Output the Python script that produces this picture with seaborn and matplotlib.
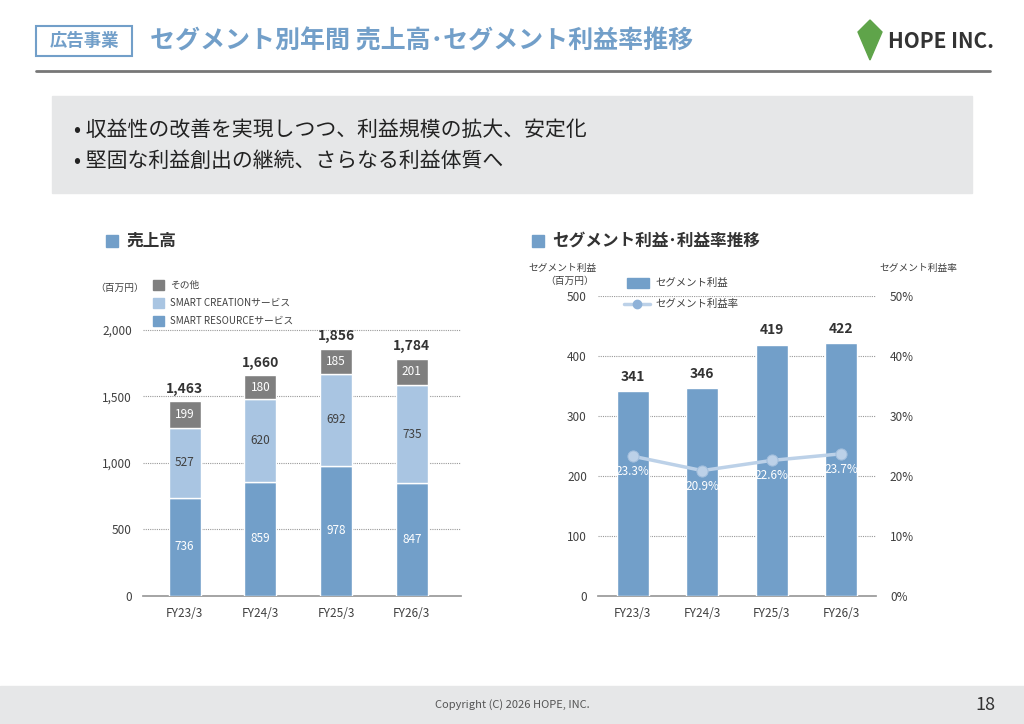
import matplotlib
matplotlib.use("Agg")
import matplotlib.pyplot as plt
import seaborn as sns
import pandas as pd
from matplotlib.patches import Rectangle, Polygon
from matplotlib.lines import Line2D

sns.set_theme(style="white")
plt.rcParams['font.family'] = ['Noto Sans CJK JP', 'DejaVu Sans']

years = ["FY23/3", "FY24/3", "FY25/3", "FY26/3"]
resource = [736, 859, 978, 847]
creation = [527, 620, 692, 735]
other = [199, 180, 185, 201]
totals = [1463, 1660, 1856, 1784]
seg_profit = [341, 346, 419, 422]
seg_margin = [23.3, 20.9, 22.6, 23.7]

C_DARK = "#729fc9"
C_LIGHT = "#a9c5e2"
C_GRAY = "#7f7f7f"
TXT = "#404040"

fig = plt.figure(figsize=(10.24, 7.24), dpi=100)
fig.patch.set_facecolor("white")

# header
fig.patches.append(Rectangle((36/1024, 1-56/724), 96/1024, 30/724, transform=fig.transFigure,
                             fill=False, edgecolor=C_DARK, lw=1.5))
fig.text(84/1024, 1-41/724, "広告事業", ha="center", va="center", fontsize=12.5, color=C_DARK, fontweight="bold")
fig.text(150/1024, 1-41/724, "セグメント別年間 売上高･セグメント利益率推移", ha="left", va="center",
         fontsize=18, color=C_DARK, fontweight="bold")
fig.add_artist(Line2D([36/1024, 990/1024], [1-71/724, 1-71/724], transform=fig.transFigure, color="#777777", lw=2))
fig.patches.append(Polygon([(858/1024, 1-32/724), (870/1024, 1-20/724), (882/1024, 1-32/724), (870/1024, 1-60/724)],
                           closed=True, transform=fig.transFigure, color="#5fa44a"))
fig.text(888/1024, 1-41/724, "HOPE INC.", ha="left", va="center", fontsize=15, color="#333333", fontweight="bold")

# message box
fig.patches.append(Rectangle((52/1024, 1-193/724), 920/1024, 97/724, transform=fig.transFigure,
                             color="#e6e7e8", zorder=0))
fig.text(74/1024, 1-130/724, "• 収益性の改善を実現しつつ、利益規模の拡大、安定化", fontsize=15, color="#222222", va="center")
fig.text(74/1024, 1-161/724, "• 堅固な利益創出の継続、さらなる利益体質へ", fontsize=15, color="#222222", va="center")

# footer
fig.patches.append(Rectangle((0, 0), 1, 38/724, transform=fig.transFigure, color="#e6e7e8", zorder=0))
fig.text(512/1024, 19/724, "Copyright (C) 2026 HOPE, INC.", ha="center", va="center", fontsize=8, color="#555555")
fig.text(985/1024, 19/724, "18", ha="center", va="center", fontsize=13, color="#333333")

# section titles
fig.patches.append(Rectangle((106/1024, 1-247/724), 12/1024, 12/724, transform=fig.transFigure, color=C_DARK))
fig.text(126/1024, 1-241/724, "売上高", fontsize=12, fontweight="bold", color="#333333", va="center")
fig.patches.append(Rectangle((532/1024, 1-247/724), 12/1024, 12/724, transform=fig.transFigure, color=C_DARK))
fig.text(552/1024, 1-241/724, "セグメント利益･利益率推移", fontsize=12, fontweight="bold", color="#333333", va="center")

df = pd.DataFrame({"year": years, "resource": resource, "creation": creation, "other": other})
b2 = [r + c for r, c in zip(resource, creation)]

# left chart
ax = fig.add_axes([143/1024, 1-596/724, 318/1024, (596-303)/724])
sns.barplot(data=df, x="year", y="resource", color=C_DARK, width=0.42, ax=ax, saturation=1, zorder=3)
sns.barplot(data=df, x="year", y="creation", bottom=resource, color=C_LIGHT, width=0.42, ax=ax, saturation=1, zorder=3)
sns.barplot(data=df, x="year", y="other", bottom=b2, color=C_GRAY, width=0.42, ax=ax, saturation=1, zorder=3)
ax.set_ylim(0, 2200)
ax.set_xlim(-0.55, 3.65)
ax.set_yticks([0, 500, 1000, 1500, 2000])
ax.set_yticklabels(["0", "500", "1,000", "1,500", "2,000"])
for y in [500, 1000, 1500, 2000]:
    ax.axhline(y, color="#999999", lw=0.8, ls=(0, (1, 1)), zorder=1)
for i in range(4):
    ax.text(i, resource[i]/2, str(resource[i]), ha="center", va="center", color="white", fontsize=8.5, zorder=5)
    ax.text(i, resource[i] + creation[i]/2, str(creation[i]), ha="center", va="center", color=TXT, fontsize=8.5, zorder=5)
    ax.text(i, b2[i] + other[i]/2, str(other[i]), ha="center", va="center", color="white", fontsize=8.5, zorder=5)
    ax.text(i, totals[i] + 40, f"{totals[i]:,}", ha="center", va="bottom", color="#333333", fontsize=10, fontweight="bold", zorder=5)
ax.set_xlabel(""); ax.set_ylabel("")
for s in ["top", "right", "left"]:
    ax.spines[s].set_visible(False)
ax.spines["bottom"].set_color("#999999")
ax.tick_params(axis="both", length=0, labelsize=8.5, colors=TXT, pad=8)
fig.text(120/1024, 1-288/724, "（百万円）", fontsize=7, color=TXT, ha="center", va="center")
for k, (lab, col) in enumerate([("その他", C_GRAY), ("SMART CREATIONサービス", C_LIGHT), ("SMART RESOURCEサービス", C_DARK)]):
    yy = 1-(285+18*k)/724
    fig.patches.append(Rectangle((153/1024, yy-5/724), 11/1024, 10/724, transform=fig.transFigure, color=col))
    fig.text(170/1024, yy, lab, fontsize=7, color=TXT, va="center")

# right chart
ax2 = fig.add_axes([598/1024, 1-596/724, 278/1024, 300/724])
sp = pd.DataFrame({"year": years, "profit": seg_profit, "margin": seg_margin})
sns.barplot(data=sp, x="year", y="profit", color=C_DARK, width=0.46, ax=ax2, saturation=1, zorder=3)
ax2.set_ylim(0, 500)
ax2.set_xlim(-0.5, 3.5)
ax2.set_yticks([0, 100, 200, 300, 400, 500])
for y in [100, 200, 300, 400, 500]:
    ax2.axhline(y, color="#999999", lw=0.8, ls=(0, (1, 1)), zorder=1)
for i in range(4):
    ax2.text(i, seg_profit[i] + 12, str(seg_profit[i]), ha="center", va="bottom", color="#333333", fontsize=10, fontweight="bold")
ax2.set_xlabel(""); ax2.set_ylabel("")
for s in ["top", "right", "left"]:
    ax2.spines[s].set_visible(False)
ax2.spines["bottom"].set_color("#999999")
ax2.tick_params(axis="both", length=0, labelsize=8.5, colors=TXT, pad=8)
ax3 = ax2.twinx()
sns.lineplot(data=sp, x="year", y="margin", ax=ax3, color="#bcd1e8", lw=2.5, marker="o", markersize=8,
             markerfacecolor="#bcd1e8", markeredgecolor="#a3bfdd", zorder=5)
ax3.set_ylim(0, 50)
ax3.set_yticks([0, 10, 20, 30, 40, 50])
ax3.set_yticklabels([f"{v}%" for v in [0, 10, 20, 30, 40, 50]])
for i in range(4):
    ax3.text(i, seg_margin[i] - 1.5, f"{seg_margin[i]}%", ha="center", va="top", color="white", fontsize=8.5, zorder=6)
ax3.set_xlabel(""); ax3.set_ylabel("")
for s in ["top", "right", "left", "bottom"]:
    ax3.spines[s].set_visible(False)
ax3.tick_params(axis="y", length=0, labelsize=8.5, colors=TXT, pad=10)
fig.text(563/1024, 1-268/724, "セグメント利益", fontsize=7, color=TXT, ha="center", va="center")
fig.text(570/1024, 1-281/724, "（百万円）", fontsize=7, color=TXT, ha="center", va="center")
fig.text(918/1024, 1-268/724, "セグメント利益率", fontsize=7, color=TXT, ha="center", va="center")
fig.patches.append(Rectangle((627/1024, 1-288/724), 22/1024, 10/724, transform=fig.transFigure, color=C_DARK))
fig.text(655/1024, 1-283/724, "セグメント利益", fontsize=7.5, color=TXT, va="center")
fig.add_artist(Line2D([624/1024, 650/1024], [1-304/724]*2, transform=fig.transFigure, color="#bcd1e8", lw=2.5))
fig.add_artist(Line2D([637/1024], [1-304/724], transform=fig.transFigure, color="#8fb2d8", marker="o", markersize=6))
fig.text(655/1024, 1-304/724, "セグメント利益率", fontsize=7.5, color=TXT, va="center")

fig.savefig("out.png", dpi=100)
